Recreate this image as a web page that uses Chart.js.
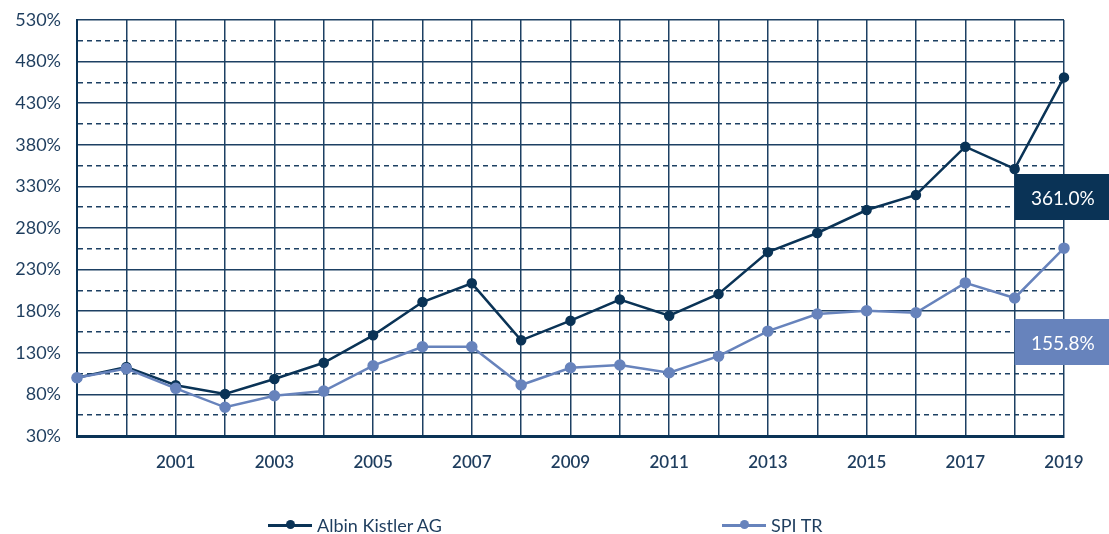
<!DOCTYPE html>
<html>
<head>
<meta charset="utf-8">
<script src="https://cdn.jsdelivr.net/npm/chart.js@4"></script>
<style>
  html, body { margin: 0; padding: 0; background: #fff; }
  #wrap { position: relative; width: 1109px; height: 534px; }
  #legend { position: absolute; left: 0; top: 514px; width: 1109px; height: 22px;
            font-family: Lato, 'Noto Sans', sans-serif; font-size: 18px; color: #1e3d5e; }
  .item { position: absolute; top: 0; display: flex; align-items: center; height: 22px; }
  .sym { position: relative; width: 44px; height: 3px; margin-right: 5px; }
  .sym i { position: absolute; left: 18px; top: -3.5px; width: 9px; height: 9px; border-radius: 50%; }
</style>
</head>
<body>
<div id="wrap">
  <canvas id="chart" width="1109" height="534"></canvas>
  <div id="legend"></div>
</div>
<script>
// years shown on the x axis (one point per year)
var years = ['1999','2000','2001','2002','2003','2004','2005','2006','2007','2008','2009',
             '2010','2011','2012','2013','2014','2015','2016','2017','2018','2019'];
var xTickLabels = ['2001','2003','2005','2007','2009','2011','2013','2015','2017','2019'];
var yTickLabels = [30, 80, 130, 180, 230, 280, 330, 380, 430, 480, 530];
// dashed helper lines between the labelled ticks
var yMidLines = [55, 105, 155, 205, 255, 305, 355, 405, 455, 505];

var seriesNames = ['Albin Kistler AG', 'SPI TR'];
var albinKistler = [100, 113, 91, 80.5, 98.5, 118, 151, 191, 213.5, 145, 168.6,
                    194, 174.6, 200.7, 251, 274, 301.6, 319.7, 377.7, 351, 461.0];
var spiTR = [100, 111, 87.3, 64.5, 78.4, 84, 114.5, 137.3, 137.3, 91.3, 112,
             115.3, 106, 126, 156, 176.6, 180.6, 178.2, 214, 195.9, 255.8];

var navy = '#0a3356';
var blue = '#6783bc';
var gridCol = '#1d4063';
var textCol = '#1e3d5e';

// boxes with the total return at the right
var endLabels = {
  id: 'endLabels',
  afterDraw: function(chart){
    var ctx = chart.ctx;
    var x0 = chart.scales.x.getPixelForValue(years.length - 2);
    var w = chart.width - x0;
    var top = chart.chartArea.top;
    var boxes = [
      {data: albinKistler, color: navy, y: top + 154},
      {data: spiTR, color: blue, y: top + 299}
    ];
    ctx.save();
    boxes.forEach(function(b){
      var perf = b.data[b.data.length-1] - b.data[0];
      ctx.fillStyle = b.color;
      ctx.fillRect(x0, b.y, w, 46);
      ctx.fillStyle = '#fff';
      ctx.font = '19px Lato, "Noto Sans", sans-serif';
      ctx.textAlign = 'center';
      ctx.textBaseline = 'middle';
      ctx.fillText(perf.toFixed(1) + '%', x0 + w/2 + 1, b.y + 25);
    });
    ctx.restore();
  }
};

var chart = new Chart(document.getElementById('chart'), {
  type: 'line',
  data: {
    labels: years,
    datasets: [
      {label: seriesNames[0], data: albinKistler, borderColor: navy, backgroundColor: navy,
       borderWidth: 2.5, pointRadius: 4, pointHoverRadius: 4, order: 2, tension: 0},
      {label: seriesNames[1], data: spiTR, borderColor: blue, backgroundColor: blue,
       borderWidth: 2.5, pointRadius: 4.5, pointHoverRadius: 4.5, order: 1, tension: 0}
    ]
  },
  options: {
    responsive: false,
    animation: false,
    layout: {padding: {top: 20, right: 45, bottom: 58, left: 0}},
    plugins: {legend: {display: false}, tooltip: {enabled: false}},
    scales: {
      x: {
        grid: {color: gridCol, lineWidth: 1.5, drawTicks: false},
        border: {color: navy, width: 3},
        ticks: {
          autoSkip: false, maxRotation: 0, padding: 16, color: textCol,
          font: {family: 'Lato', size: 17, weight: '600'},
          callback: function(v, i){ return xTickLabels.indexOf(years[i]) >= 0 ? years[i] : ''; }
        },
        afterFit: function(s){ s.height = 40; }
      },
      y: {
        min: 30, max: 530,
        grid: {color: gridCol, lineWidth: 1.5, drawTicks: false},
        border: {
          color: navy, width: 2,
          dash: function(c){
            if (!c.tick) return [];
            return yMidLines.indexOf(c.tick.value) >= 0 ? [5, 4] : [];
          }
        },
        ticks: {
          autoSkip: false, padding: 16, color: textCol,
          font: {family: 'Lato', size: 18},
          callback: function(v){ return yTickLabels.indexOf(v) >= 0 ? v + '%' : ''; }
        },
        afterBuildTicks: function(s){
          s.ticks = yTickLabels.concat(yMidLines).sort(function(a, b){ return a - b; })
            .map(function(v){ return {value: v}; });
        },
        afterFit: function(s){ s.width = 77; s.paddingTop = 0; s.paddingBottom = 0; }
      }
    }
  },
  plugins: [endLabels]
});

// legend below the chart
var legend = document.getElementById('legend');
[[seriesNames[0], navy, 268], [seriesNames[1], blue, 722]].forEach(function(it){
  var d = document.createElement('div');
  d.className = 'item';
  d.style.left = it[2] + 'px';
  d.innerHTML = '<span class="sym" style="background:' + it[1] + '"><i style="background:' + it[1] + '"></i></span>' + it[0];
  legend.appendChild(d);
});
</script>
</body>
</html>
